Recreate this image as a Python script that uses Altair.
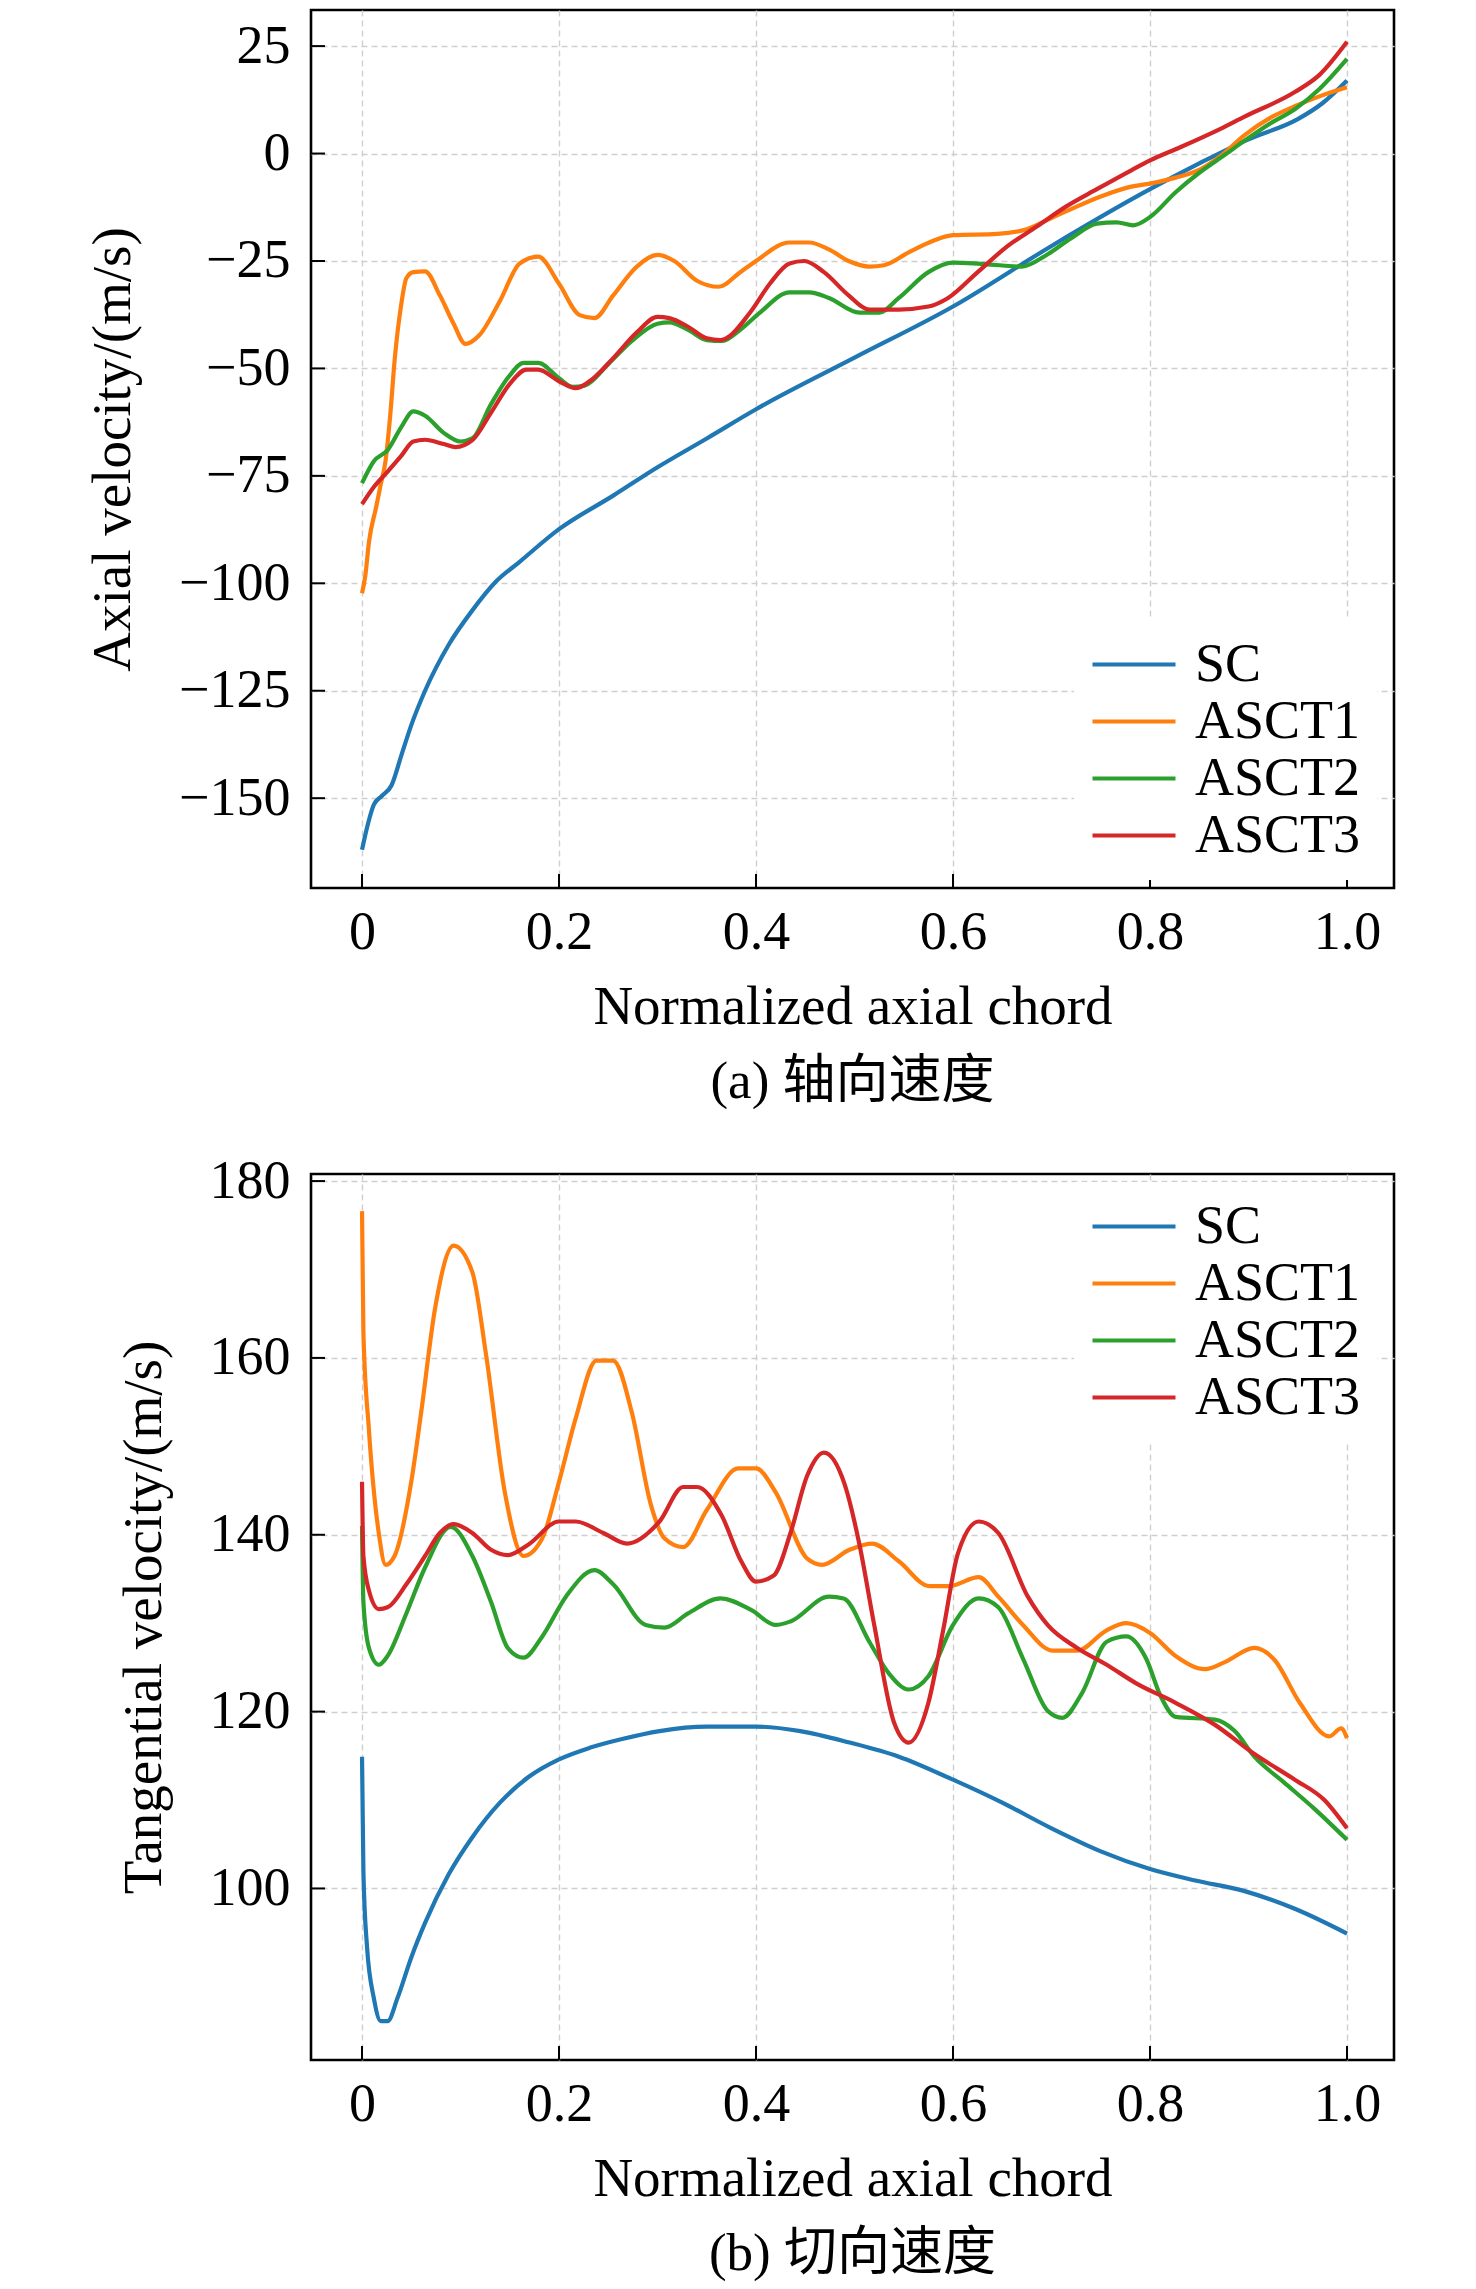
import altair as alt
import pandas as pd

NAMES = ["SC", "ASCT1", "ASCT2", "ASCT3"]
COLORS = ["#1f77b4", "#ff7f0e", "#2ca02c", "#d62728"]

# ---------------- (a) axial velocity ----------------
a_sc_x = [0, 0.006, 0.012, 0.02, 0.03, 0.04, 0.05, 0.064, 0.088, 0.112, 0.136, 0.16, 0.2, 0.255, 0.3, 0.35, 0.4, 0.5, 0.6, 0.7, 0.8, 0.85, 0.9, 0.95, 0.975, 1.0]
a_sc_y = [-162, -156, -151.5, -149.5, -147, -140, -133, -125, -114.3, -106.3, -99.6, -95, -87.4, -79.6, -73, -66.3, -59.5, -47.5, -35.6, -21.5, -8.3, -2.3, 3.3, 8, 11.7, 17]

a_a1_x = [0, 0.0033, 0.0071, 0.0143, 0.019, 0.0238, 0.0286, 0.0333, 0.0395, 0.045, 0.052, 0.064, 0.079, 0.093, 0.105, 0.119, 0.14, 0.16, 0.179, 0.2, 0.221, 0.236, 0.255, 0.279, 0.3, 0.317, 0.34, 0.362, 0.384, 0.4, 0.434, 0.454, 0.474, 0.494, 0.515, 0.53, 0.555, 0.58, 0.6, 0.645, 0.675, 0.7, 0.726, 0.75, 0.781, 0.8, 0.826, 0.851, 0.871, 0.896, 0.922, 0.947, 0.972, 1.0]
a_a1_y = [-102.3, -98.3, -90.3, -82.3, -77, -71.6, -61, -47.6, -35.6, -29, -27.6, -27.4, -33, -39.6, -44.3, -42.3, -34.3, -25.6, -24, -30.3, -37.6, -38.3, -33, -26.3, -23.6, -25, -29.6, -31, -27.6, -25, -20.7, -20.7, -22.3, -25, -26.3, -26, -23, -20.3, -19, -18.7, -17.6, -15, -12.3, -10, -7.7, -7, -5.6, -3.7, -0.7, 4.3, 8.3, 11, 13.3, 15.4]

a_a2_x = [0, 0.012, 0.026, 0.04, 0.052, 0.064, 0.083, 0.1, 0.112, 0.131, 0.15, 0.164, 0.179, 0.2, 0.214, 0.226, 0.25, 0.274, 0.3, 0.312, 0.331, 0.35, 0.366, 0.384, 0.404, 0.434, 0.454, 0.474, 0.505, 0.525, 0.545, 0.575, 0.6, 0.625, 0.67, 0.695, 0.72, 0.746, 0.766, 0.783, 0.801, 0.826, 0.851, 0.876, 0.896, 0.922, 0.947, 0.972, 1.0]
a_a2_y = [-76.7, -71.6, -69, -63.6, -60, -61, -65, -67, -66.3, -58.3, -51.6, -48.7, -48.7, -52.3, -54.3, -54, -49, -43.6, -39.6, -39.3, -41, -43.4, -43.6, -41, -37, -32.3, -32.3, -33.6, -37, -37, -33.6, -27.6, -25.4, -25.6, -26.3, -23.6, -19.7, -16.3, -16, -16.7, -14.6, -9, -4.3, -0.3, 3, 7, 10.3, 15, 22]

a_a3_x = [0, 0.012, 0.026, 0.04, 0.052, 0.064, 0.083, 0.095, 0.112, 0.131, 0.15, 0.167, 0.179, 0.2, 0.217, 0.231, 0.255, 0.279, 0.3, 0.312, 0.331, 0.35, 0.364, 0.394, 0.414, 0.434, 0.449, 0.469, 0.494, 0.515, 0.545, 0.575, 0.595, 0.625, 0.655, 0.685, 0.715, 0.746, 0.781, 0.8, 0.826, 0.871, 0.896, 0.947, 0.972, 1.0]
a_a3_y = [-81.6, -77.6, -74, -70.3, -67, -66.6, -67.6, -68.3, -66.7, -60.3, -53.6, -50.3, -50.3, -53, -54.6, -53, -47.6, -41.6, -38, -38.3, -40.3, -43, -43.4, -37, -30.3, -25.6, -25, -27.6, -33, -36.3, -36.3, -35.6, -33.6, -27.6, -21.6, -17, -12.3, -8.3, -3.9, -1.6, 1, 5.7, 8.6, 14.3, 18.3, 26]

# ---------------- (b) tangential velocity ----------------
b_sc_x = [0, 0.0014, 0.005, 0.012, 0.019, 0.026, 0.036, 0.05, 0.064, 0.088, 0.112, 0.14, 0.169, 0.2, 0.231, 0.264, 0.302, 0.35, 0.4, 0.445, 0.495, 0.545, 0.6, 0.65, 0.7, 0.75, 0.8, 0.846, 0.896, 0.947, 1.0]
b_sc_y = [114.9, 101.9, 93.5, 87.6, 85, 85, 87.6, 92.2, 96.1, 101.6, 105.8, 109.7, 112.6, 114.6, 115.9, 116.9, 117.8, 118.3, 118.3, 117.8, 116.5, 114.9, 112.3, 109.7, 106.8, 104.2, 102.2, 100.9, 99.7, 97.7, 94.9]

b_a1_x = [0, 0.0014, 0.007, 0.017, 0.024, 0.033, 0.05, 0.06, 0.074, 0.093, 0.112, 0.126, 0.145, 0.164, 0.183, 0.2, 0.217, 0.238, 0.255, 0.274, 0.293, 0.307, 0.326, 0.35, 0.382, 0.4, 0.42, 0.452, 0.467, 0.495, 0.518, 0.545, 0.576, 0.596, 0.626, 0.646, 0.671, 0.701, 0.726, 0.756, 0.776, 0.8, 0.826, 0.856, 0.876, 0.906, 0.926, 0.952, 0.982, 0.994, 1.0]
b_a1_y = [176.6, 162.9, 151.9, 140.2, 136.6, 137.6, 146, 153.8, 165.5, 172.7, 169.7, 160.3, 144.8, 137.6, 139.6, 146, 153.2, 159.7, 159.7, 153.8, 143.5, 139.6, 138.6, 142.8, 147.5, 147.5, 144.8, 137.3, 136.6, 138.3, 139, 137, 134.2, 134.2, 135.2, 133, 129.8, 126.9, 126.9, 129.2, 130, 128.9, 126.3, 124.8, 125.6, 127.2, 125.9, 121, 117.2, 118.1, 117]

b_a2_x = [0, 0.0014, 0.007, 0.017, 0.026, 0.045, 0.064, 0.09, 0.112, 0.131, 0.148, 0.164, 0.183, 0.207, 0.236, 0.255, 0.288, 0.307, 0.331, 0.364, 0.395, 0.42, 0.435, 0.474, 0.489, 0.515, 0.535, 0.555, 0.575, 0.6, 0.626, 0.646, 0.671, 0.696, 0.711, 0.731, 0.756, 0.776, 0.796, 0.811, 0.826, 0.866, 0.886, 0.906, 0.936, 0.967, 1.0]
b_a2_y = [141, 132.4, 127.2, 125.3, 126.3, 131.1, 136.3, 140.9, 137.6, 132.4, 127.2, 126.1, 128.5, 133, 136, 134.4, 129.8, 129.5, 131.1, 132.8, 131.5, 129.8, 130.2, 133, 132.8, 127.9, 124.3, 122.5, 124, 129.8, 132.8, 131.8, 126, 120.1, 119.3, 122.1, 127.9, 128.5, 126, 121.7, 119.4, 119.1, 117.8, 114.9, 112, 109, 105.5]

b_a3_x = [0, 0.0014, 0.007, 0.017, 0.026, 0.045, 0.064, 0.079, 0.093, 0.112, 0.131, 0.148, 0.169, 0.2, 0.217, 0.245, 0.269, 0.302, 0.326, 0.34, 0.365, 0.385, 0.4, 0.418, 0.435, 0.452, 0.469, 0.49, 0.505, 0.52, 0.54, 0.555, 0.575, 0.59, 0.605, 0.626, 0.646, 0.676, 0.696, 0.726, 0.756, 0.786, 0.826, 0.866, 0.906, 0.947, 0.977, 1.0]
b_a3_y = [146, 137.6, 133.7, 131.6, 131.8, 134.4, 137.6, 140.2, 141.2, 140.2, 138.3, 137.7, 138.9, 141.5, 141.5, 140.2, 139, 141.5, 145.4, 145.4, 142.2, 137, 134.7, 135.4, 140.2, 146.7, 149.3, 145.7, 138.9, 129.8, 118.8, 116.5, 121, 129.2, 137.9, 141.5, 140.2, 133, 129.8, 127.2, 125.3, 123.2, 121, 118.5, 115.2, 112.3, 110, 106.8]

x_ticks = [0, 0.2, 0.4, 0.6, 0.8, 1.0]
a_y_ticks = [-150, -125, -100, -75, -50, -25, 0, 25]
b_y_ticks = [100, 120, 140, 160, 180]

X_TITLE = "Normalized axial chord"
A_Y_TITLE = "Axial velocity/(m/s)"
B_Y_TITLE = "Tangential velocity/(m/s)"
A_CAPTION = "(a) 轴向速度"
B_CAPTION = "(b) 切向速度"

SERIF = "Liberation Serif"
CJK = "'Liberation Serif', 'Noto Sans CJK SC', serif"

W = 1083


def frame(series):
    rows = []
    for name, xs, ys in series:
        for i, (xv, yv) in enumerate(zip(xs, ys)):
            rows.append({"x": xv, "v": yv, "series": name, "i": i})
    return pd.DataFrame(rows)


def panel(df, H, ydom, yticks, ytitle, caption, legend_y):
    xscale = alt.Scale(domain=[-0.0518, 1.0477], nice=False, zero=False)
    yscale = alt.Scale(domain=ydom, nice=False, zero=False)
    xaxis = alt.Axis(values=x_ticks, title=X_TITLE, grid=True, domain=False, ticks=False,
                     labelExpr="datum.value == 0 ? '0' : format(datum.value, '.1f')",
                     labelFont=SERIF, labelFontSize=54, labelPadding=17, labelColor="black",
                     titleFont=SERIF, titleFontSize=55, titleFontWeight="normal", titleColor="black",
                     titlePadding=21, gridColor="#cfcfcf", gridDash=[6, 4], gridWidth=1.4,
                     labelFlush=False)
    yaxis = alt.Axis(values=yticks, title=ytitle, grid=True, domain=False, ticks=False,
                     format="d", labelFont=SERIF, labelFontSize=54, labelPadding=21,
                     labelColor="black", titleFont=SERIF, titleFontSize=55,
                     titleFontWeight="normal", titleColor="black", titlePadding=37,
                     gridColor="#cfcfcf", gridDash=[6, 4], gridWidth=1.4, labelFlush=False)
    lines = alt.Chart(df).mark_line(strokeWidth=4.2, interpolate="monotone", clip=True).encode(
        x=alt.X("x:Q", scale=xscale, axis=xaxis),
        y=alt.Y("v:Q", scale=yscale, axis=yaxis),
        order="i:Q",
        color=alt.Color("series:N", scale=alt.Scale(domain=NAMES, range=COLORS),
                        sort=NAMES,
                        legend=alt.Legend(title=None, orient="none", legendX=763,
                                          legendY=legend_y,
                                          symbolType="stroke", symbolSize=6889,
                                          symbolStrokeWidth=4.2, labelFont=SERIF,
                                          labelFontSize=54, labelColor="black",
                                          labelLimit=500, labelOffset=17, padding=16,
                                          fillColor="white", clipHeight=57, rowPadding=0)),
    )
    xt = alt.Chart(pd.DataFrame({"t": x_ticks})).mark_rule(color="black", strokeWidth=2).encode(
        x=alt.X("t:Q", scale=xscale), y=alt.value(H), y2=alt.value(H - 14))
    yt = alt.Chart(pd.DataFrame({"t": yticks})).mark_rule(color="black", strokeWidth=2).encode(
        y=alt.Y("t:Q", scale=yscale), x=alt.value(0), x2=alt.value(14))
    return alt.layer(lines, xt, yt).properties(
        width=W, height=H,
        title=alt.TitleParams(caption, orient="bottom", anchor="middle", frame="group",
                              font=CJK, fontSize=53, fontWeight="normal", color="black",
                              offset=22),
    )


df_a = frame([("SC", a_sc_x, a_sc_y), ("ASCT1", a_a1_x, a_a1_y),
              ("ASCT2", a_a2_x, a_a2_y), ("ASCT3", a_a3_x, a_a3_y)])
df_b = frame([("SC", b_sc_x, b_sc_y), ("ASCT1", b_a1_x, b_a1_y),
              ("ASCT2", b_a2_x, b_a2_y), ("ASCT3", b_a3_x, b_a3_y)])

top = panel(df_a, 878, [-170.9, 33.4], a_y_ticks, A_Y_TITLE, A_CAPTION, 610)
bot = panel(df_b, 886, [80.6, 180.8], b_y_ticks, B_Y_TITLE, B_CAPTION, 8)

chart = alt.vconcat(top, bot, spacing=41).resolve_scale(color="independent").resolve_legend(
    color="independent").properties(
    padding={"left": 76, "top": 0, "right": 10, "bottom": 0},
    background="white",
).configure_view(stroke="black", strokeWidth=2.6)

chart.save("out.html", embed_options={"renderer": "svg", "actions": False})
